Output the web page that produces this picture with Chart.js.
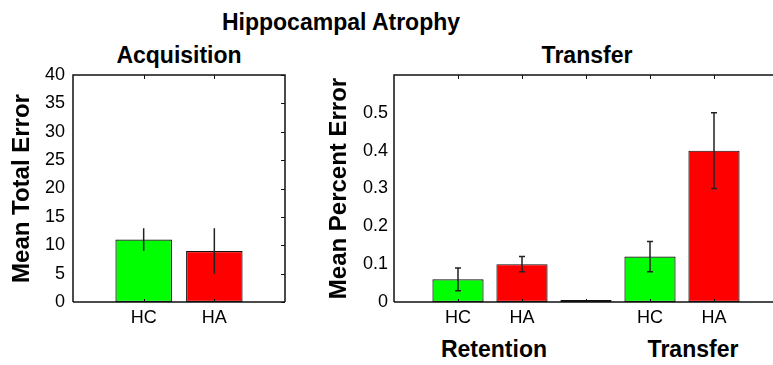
<!DOCTYPE html>
<html>
<head>
<meta charset="utf-8">
<script src="https://cdn.jsdelivr.net/npm/chart.js@4.4.1/dist/chart.umd.min.js"></script>
<style>
  body { margin: 0; background: #fff; }
  #wrap { position: relative; width: 773px; height: 365px; overflow: hidden; font-family: "Liberation Sans", Arial, sans-serif; }
  #wrap canvas { position: absolute; top: 0; }
  .lbl { position: absolute; font-weight: bold; font-size: 23px; line-height: 23px; white-space: nowrap; transform: translateX(-50%); color: #000; }
</style>
</head>
<body>
<div id="wrap">
  <div class="lbl" style="left:341px;top:11px">Hippocampal Atrophy</div>
  <div class="lbl" style="left:179px;top:44px">Acquisition</div>
  <div class="lbl" style="left:587px;top:44px">Transfer</div>
  <div class="lbl" style="left:494px;top:338px">Retention</div>
  <div class="lbl" style="left:693px;top:338px">Transfer</div>
  <canvas id="acqChart" width="300" height="365" style="left:0"></canvas>
  <canvas id="transferChart" width="480" height="365" style="left:320px"></canvas>
</div>
<script>
// acquisition panel: blank slots at both ends keep the bars off the frame
const acqLabels = ["", "HC", "HA", ""];
const acqMeans = [null, 11, 9, null];
const acqErrors = [null, 2, 4, null];
const acqYTicks = [0, 5, 10, 15, 20, 25, 30, 35, 40];

// transfer panel: retention pair, empty gap, transfer pair
const transLabels = ["", "HC", "HA", "", "HC", "HA", ""];
const transMeans = [null, 0.06, 0.10, 0, 0.12, 0.40, null];
const transErrors = [null, 0.03, 0.02, null, 0.04, 0.10, null];
const transYTicks = [0, 0.1, 0.2, 0.3, 0.4, 0.5];

const FONT = "'Liberation Sans', Arial, sans-serif";
const INK = "#111";

function barColor(label) {
  if (label === "HC") return "#00ff00";
  if (label === "HA") return "#ff0000";
  return "#000";
}

// box, inward ticks and error bars
const framePlugin = {
  id: "frame",
  afterDatasetsDraw(chart) {
    const { ctx, chartArea: a, scales: { x, y } } = chart;
    const ds = chart.data.datasets[0];
    const cfg = ds.frame;
    ctx.save();
    ctx.strokeStyle = INK;
    ctx.lineWidth = 1.5;
    ctx.beginPath();
    ctx.moveTo(a.left, a.bottom);
    ctx.lineTo(a.left, a.top);
    ctx.lineTo(a.right, a.top);
    if (cfg.closed) ctx.lineTo(a.right, a.bottom);
    ctx.moveTo(a.left, a.bottom);
    ctx.lineTo(a.right, a.bottom);
    ctx.stroke();

    ctx.lineWidth = 1;
    ctx.beginPath();
    for (let i = 1; i < x.ticks.length - 1; i++) {
      const px = Math.round(x.getPixelForTick(i)) + 0.5;
      ctx.moveTo(px, a.top);
      ctx.lineTo(px, a.top + 4);
      ctx.moveTo(px, a.bottom);
      ctx.lineTo(px, a.bottom - 3);
    }
    if (cfg.closed) {
      y.ticks.forEach(t => {
        const py = Math.round(y.getPixelForValue(t.value)) + 0.5;
        ctx.moveTo(a.right, py);
        ctx.lineTo(a.right - 4, py);
      });
    }
    ctx.stroke();

    ctx.strokeStyle = "#222";
    ctx.lineWidth = 1.5;
    chart.getDatasetMeta(0).data.forEach((bar, i) => {
      const e = ds.errors[i];
      const v = ds.data[i];
      if (e == null || v == null) return;
      const yHi = y.getPixelForValue(v + e);
      const yLo = y.getPixelForValue(v - e);
      ctx.beginPath();
      ctx.moveTo(bar.x, yHi);
      ctx.lineTo(bar.x, yLo);
      if (cfg.cap) {
        ctx.moveTo(bar.x - cfg.cap, yHi);
        ctx.lineTo(bar.x + cfg.cap, yHi);
        ctx.moveTo(bar.x - cfg.cap, yLo);
        ctx.lineTo(bar.x + cfg.cap, yLo);
      }
      ctx.stroke();
    });
    ctx.restore();
  }
};

function makeChart(id, labels, means, errors, yTicks, yMax, yTitle, opts) {
  return new Chart(document.getElementById(id), {
    type: "bar",
    data: {
      labels: labels,
      datasets: [{
        data: means,
        errors: errors,
        frame: { closed: opts.closed, cap: opts.cap },
        backgroundColor: labels.map(barColor),
        borderColor: "#111",
        borderWidth: 1.2,
        borderSkipped: false,
        minBarLength: 2,
        categoryPercentage: 1,
        barPercentage: 0.8
      }]
    },
    options: {
      responsive: false,
      animation: false,
      layout: { padding: { top: 75, left: 0, right: opts.padRight, bottom: 0 } },
      plugins: { legend: { display: false }, tooltip: { enabled: false } },
      scales: {
        x: {
          offset: false,
          grid: { display: false, drawTicks: false },
          border: { display: false },
          ticks: { color: "#000", font: { family: FONT, size: 18 }, padding: 5, maxRotation: 0, autoSkip: false },
          afterFit: s => { s.height = 63; }
        },
        y: {
          min: 0,
          max: yMax,
          grid: { display: false, drawTicks: false },
          border: { display: false },
          ticks: { color: "#000", font: { family: FONT, size: 18 }, padding: opts.tickPad },
          afterBuildTicks: s => { s.ticks = yTicks.map(v => ({ value: v })); },
          afterFit: s => { s.width = opts.axisWidth; },
          title: {
            display: true,
            text: yTitle,
            color: "#000",
            font: { family: FONT, size: 24, weight: "bold" },
            padding: { top: opts.titlePad, bottom: 0 }
          }
        }
      }
    },
    plugins: [framePlugin]
  });
}

makeChart("acqChart", acqLabels, acqMeans, acqErrors, acqYTicks, 40, "Mean Total Error",
  { closed: true, cap: 0, padRight: 15, axisWidth: 73, tickPad: 8, titlePad: 8 });

makeChart("transferChart", transLabels, transMeans, transErrors, transYTicks, 0.6, "Mean Percent Error",
  { closed: false, cap: 3, padRight: 22, axisWidth: 74, tickPad: 6, titlePad: 5 });
</script>
</body>
</html>
